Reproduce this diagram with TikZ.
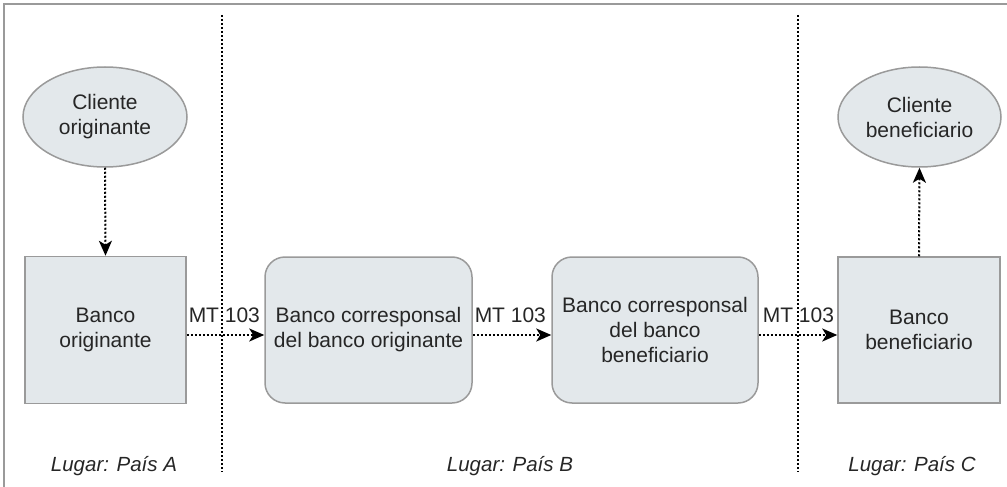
\documentclass[tikz,border=0pt]{standalone}
\usepackage{fontspec}
\setmainfont{Liberation Sans}
\usetikzlibrary{shapes.geometric,arrows.meta}
\definecolor{boxfill}{HTML}{E3E8EB}
\definecolor{boxline}{HTML}{9A9A9A}
\begin{document}
\begin{tikzpicture}[x=1pt,y=-1pt,
  every node/.style={font=\fontsize{21}{25}\selectfont, text=black!85},
  ellnode/.style={ellipse, draw=boxline, line width=1.5pt, fill=boxfill, align=center, inner sep=0pt},
  sqbox/.style={rectangle, draw=boxline, line width=1.5pt, fill=boxfill, align=center, inner sep=0pt},
  rbox/.style={rectangle, rounded corners=20pt, draw=boxline, line width=1.5pt, fill=boxfill, align=center, inner sep=0pt},
  sepline/.style={line width=2pt, black, dash pattern=on 2pt off 2pt},
  flow/.style={line width=2pt, black, dash pattern=on 2pt off 2pt, -{Stealth[length=15pt,width=13pt,inset=4pt]}},
  mtlabel/.style={anchor=base west, inner sep=0pt},
  place/.style={font=\fontsize{20.5}{25}\selectfont\itshape, inner sep=0pt}
]
\useasboundingbox (0,0) rectangle (1007,487);
% frame
\draw[boxline, line width=2pt] (4,487) -- (4,4) -- (1007,4);
% separators
\coordinate (s1t) at (222,15); \coordinate (s1b) at (222,472);
\coordinate (s2t) at (798,15); \coordinate (s2b) at (798,472);
\draw[sepline] (s1t) -- (s1b);
\draw[sepline] (s2t) -- (s2b);
% nodes
\node[ellnode, minimum width=164pt, minimum height=100pt] (co) at (105,117) {Cliente\\originante};
\node[sqbox, minimum width=161pt, minimum height=147pt] (bo) at (105.5,330) {Banco\\originante};
\node[rbox, minimum width=207pt, minimum height=146pt] (bc1) at (368.5,330) {Banco corresponsal\\del banco originante};
\node[rbox, minimum width=206pt, minimum height=146pt] (bc2) at (655,330) {Banco corresponsal\\del banco\\beneficiario};
\node[sqbox, minimum width=162pt, minimum height=146pt] (bb) at (919,330) {Banco\\beneficiario};
\node[ellnode, minimum width=163pt, minimum height=100pt] (cb) at (919.5,117) {Cliente\\beneficiario};
% flows
\draw[flow] (co.south) -- (bo.north);
\draw[flow] (bb.north) -- (cb.south);
\draw[flow] ([yshift=-5pt]bo.east) -- node[pos=0, mtlabel, xshift=1pt, yshift=13pt] {MT 103} ([yshift=-5pt]bc1.west);
\draw[flow] ([yshift=-5pt]bc1.east) -- node[pos=0, mtlabel, xshift=1pt, yshift=13pt] {MT 103} ([yshift=-5pt]bc2.west);
\draw[flow] ([yshift=-5pt]bc2.east) -- node[pos=0, mtlabel, xshift=3pt, yshift=13pt] {MT 103} ([yshift=-5pt]bb.west);
% places
\node[place] (pa) at (114,466) {Lugar: País A};
\node[place] (pb) at (510,466) {Lugar: País B};
\node[place] (pc) at (912,466) {Lugar: País C};
\end{tikzpicture}
\end{document}
